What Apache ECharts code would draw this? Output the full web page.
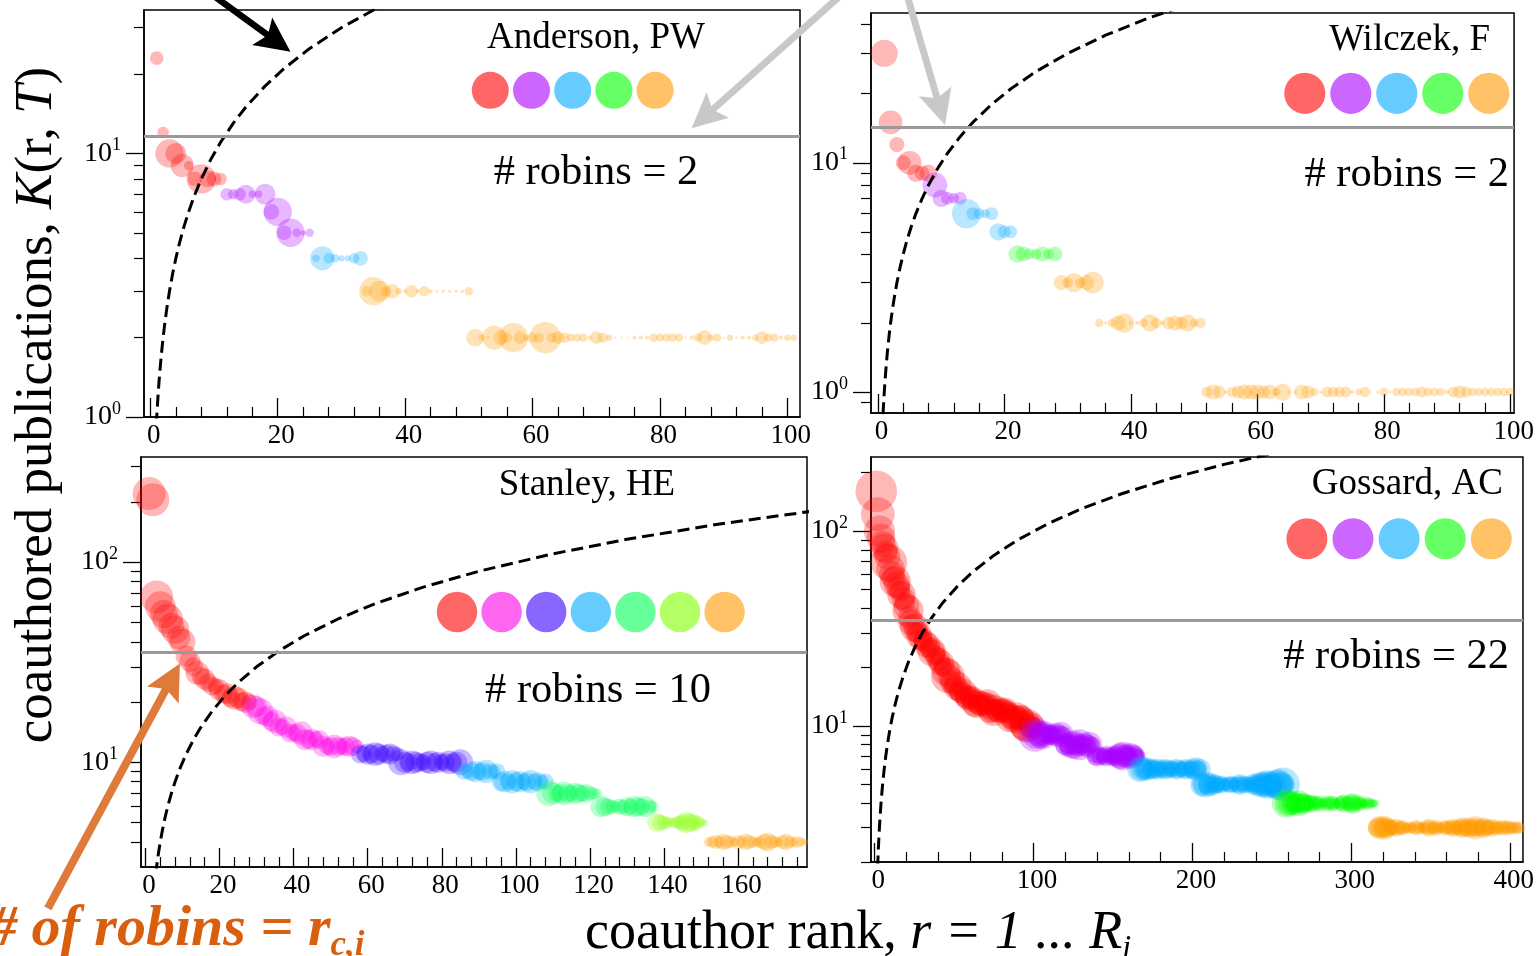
<!DOCTYPE html>
<html>
<head>
<meta charset="utf-8">
<title>Coauthor rank profiles</title>
<script src="https://cdn.jsdelivr.net/npm/echarts@6/dist/echarts.min.js"></script>
<style>
  html, body { margin: 0; padding: 0; background: #ffffff; }
  #chart { width: 1537px; height: 956px; }
</style>
</head>
<body>
<div id="chart"></div>
<script>
// ---------------------------------------------------------------------------
// Data: coauthored publications K(r) for each coauthor rank r = 1..R,
// with a bubble weight per coauthor and the rank where each colour group starts.
// ---------------------------------------------------------------------------
const authors = ['Anderson, PW', 'Wilczek, F', 'Stanley, HE', 'Gossard, AC'];
const robinCounts = [2, 2, 10, 22];
const robinThresholds = [11.6, 14.3, 35.6, 34.7];

const andersonK = [
  23,12,10,10,9,9,8,8,8,8,
  8,7,7,7,7,7,7,7,6,6,
  5,5,5,5,5,4,4,4,4,4,
  4,4,4,3,3,3,3,3,3,3,
  3,3,3,3,3,3,3,3,3,3,
  2,2,2,2,2,2,2,2,2,2,
  2,2,2,2,2,2,2,2,2,2,
  2,2,2,2,2,2,2,2,2,2,
  2,2,2,2,2,2,2,2,2,2,
  2,2,2,2,2,2,2,2,2,2,
  2
];
const andersonW = [
  13,11,27,20,22,9,14,28,16,14,
  12,12,10,12,18,7,7,20,15,27,
  14,27,8,5,8,7,23,10,8,6,
  6,10,14,10,27,20,10,14,6,4,
  12,4,10,4,3,3,3,3,3,8,
  17,6,3,23,14,10,28,12,6,10,
  10,30,10,12,10,8,8,8,4,12,
  10,6,2,2,2,4,4,4,8,8,
  8,8,8,2,4,8,14,6,8,2,
  6,2,4,4,6,12,8,8,4,6,
  6
];
const andersonGroupStart = [1, 12, 26, 34, 34];

const wilczekK = [
  30,15,12,10,10,9,9,9,8,7,
  7,7,7,6,6,6,6,6,5,5,
  5,4,4,4,4,4,4,4,3,3,
  3,3,3,3,2,2,2,2,2,2,
  2,2,2,2,2,2,2,2,2,2,
  2,1,1,1,1,1,1,1,1,1,
  1,1,1,1,1,1,1,1,1,1,
  1,1,1,1,1,1,1,1,1,1,
  1,1,1,1,1,1,1,1,1,1,
  1,1,1,1,1,1,1,1,1,1
];
const wilczekW = [
  25,22,14,14,22,16,14,16,23,16,
  12,10,12,27,12,10,8,12,16,12,
  12,16,14,10,10,14,10,14,14,10,
  18,10,14,20,8,3,8,14,18,4,
  4,8,16,10,4,12,14,12,16,8,
  10,10,14,12,3,10,12,14,14,14,
  12,14,8,16,3,3,14,12,8,3,
  10,10,10,10,4,6,10,2,3,8,
  3,8,8,8,8,10,8,8,8,4,
  10,12,10,8,8,8,8,8,8,8
];
const wilczekGroupStart = [1, 9, 14, 22, 29];

const stanleyK = [
  220,205,67,60,55,52,48,46,42,40,
  34,32,30,28,27,26,25,24,24,23,
  22,22,21,21,21,20,20,20,19,19,
  18,17,17,16,16,15,15,15,14,14,
  14,14,13,13,13,13,13,12,12,12,
  12,12,12,12,12,12,12,11,11,11,
  11,11,11,11,11,11,11,11,10,10,
  10,10,10,10,10,10,10,10,10,10,
  10,10,10,10,10,9,9,9,9,9,
  9,9,9,9,9,8,8,8,8,8,
  8,8,8,8,8,8,8,8,7,7,
  7,7,7,7,7,7,7,7,7,7,
  7,7,6,6,6,6,6,6,6,6,
  6,6,6,6,6,6,6,5,5,5,
  5,5,5,5,5,5,5,5,5,5,
  5,4,4,4,4,4,4,4,4,4,
  4,4,4,4,4,4,4,4,4,4,
  4,4,4,4,4,4,4,4
];
const stanleyW = [
  28,28,28,26,24,26,22,24,20,22,
  18,18,16,20,16,18,16,16,14,18,
  16,18,16,20,18,16,18,14,20,18,
  22,16,18,16,20,16,14,18,16,14,
  16,20,18,16,18,14,16,18,14,16,
  20,16,14,16,18,16,12,16,14,18,
  16,20,18,14,16,18,14,12,22,18,
  16,20,18,16,14,18,20,16,18,14,
  16,20,16,18,22,14,12,16,18,14,
  16,20,14,12,14,16,18,14,20,16,
  18,14,16,20,14,16,12,14,22,18,
  14,16,20,16,14,18,16,14,16,12,
  10,8,18,16,14,12,10,14,12,16,
  14,18,16,14,18,12,10,16,14,12,
  10,8,10,12,14,18,16,14,12,8,
  6,8,10,12,10,14,12,10,8,12,
  10,14,12,10,8,10,14,16,12,10,
  8,12,14,10,8,10,8,6
];
const stanleyGroupStart = [1, 29, 58, 86, 109, 138, 152];

const gossardK = [
  160,122,100,92,86,82,78,74,69,64,
  60,57,55,53,51,49,47,45,43,41,
  39,36,34,33,32,31,30,29,28,28,
  27,27,26,25,25,24,24,23,23,22,
  21,21,20,20,19,18,18,17,17,16,
  16,16,15,15,15,15,14,14,14,14,
  14,13,13,13,13,13,13,13,13,13,
  13,13,12,12,12,12,12,12,12,12,
  12,12,12,12,11,11,11,11,11,11,
  11,11,11,10,10,10,10,10,10,10,
  9,9,9,9,9,9,9,9,9,9,
  9,9,9,9,9,9,9,9,9,8,
  8,8,8,8,8,8,8,8,8,8,
  8,8,8,8,8,8,8,7,7,7,
  7,7,7,7,7,7,7,7,7,7,
  7,7,7,7,7,7,7,7,7,7,
  7,7,7,7,7,7,6,6,6,6,
  6,6,6,6,6,6,6,6,6,6,
  6,6,6,6,6,6,6,6,6,6,
  6,6,6,6,6,6,6,6,6,6,
  6,6,6,6,6,5,5,5,5,5,
  5,5,5,5,5,5,5,5,5,5,
  5,5,5,5,5,5,5,5,5,5,
  5,5,5,5,5,5,5,5,5,5,
  5,5,5,5,5,5,5,5,5,5,
  5,5,5,5,5,5,5,5,4,4,
  4,4,4,4,4,4,4,4,4,4,
  4,4,4,4,4,4,4,4,4,4,
  4,4,4,4,4,4,4,4,4,4,
  4,4,4,4,4,4,4,4,4,4,
  4,4,4,4,4,4,4,4,4,4,
  4,4,4,4,4,3,3,3,3,3,
  3,3,3,3,3,3,3,3,3,3,
  3,3,3,3,3,3,3,3,3,3,
  3,3,3,3,3,3,3,3,3,3,
  3,3,3,3,3,3,3,3,3,3,
  3,3,3,3,3,3,3,3,3,3,
  3,3,3,3,3,3,3,3,3,3,
  3,3,3,3,3,3,3,3,3,3,
  3,3,3,3,3,3,3,3,3,3,
  3,3,3,3,3,3
];
const gossardW = [
  32,26,24,22,20,22,18,20,28,22,
  20,18,24,20,18,16,22,18,16,20,
  24,18,20,16,22,18,16,20,18,14,
  16,18,20,14,16,22,18,16,14,18,
  16,20,14,16,22,26,18,16,20,14,
  18,22,16,18,14,20,16,18,20,16,
  18,14,20,22,16,18,20,14,16,18,
  22,16,20,18,24,16,18,14,20,16,
  18,20,16,14,22,18,16,20,24,18,
  16,20,18,22,24,26,18,16,20,14,
  26,22,18,20,16,22,18,14,12,16,
  14,16,12,18,14,16,20,14,12,16,
  18,14,16,20,22,16,14,18,24,16,
  14,18,12,16,20,14,12,10,14,16,
  12,14,10,12,14,16,12,10,14,12,
  16,14,12,18,20,22,16,18,14,16,
  20,18,14,16,12,10,20,18,16,14,
  18,16,12,14,16,12,14,16,12,10,
  14,12,16,14,10,12,14,12,10,16,
  14,12,10,12,14,16,12,10,14,12,
  16,18,14,12,16,18,16,20,14,16,
  18,14,12,16,14,12,10,14,12,10,
  8,10,12,14,12,10,8,12,14,16,
  12,10,14,12,10,8,12,16,14,12,
  18,16,14,20,18,16,22,20,18,16,
  14,18,22,24,20,18,26,16,22,20,
  18,16,14,18,16,14,20,16,14,16,
  12,14,10,12,14,10,12,8,10,12,
  8,6,8,10,12,8,10,12,10,8,
  6,8,10,12,14,10,8,12,10,14,
  16,12,10,8,12,10,8,6,8,10,
  8,6,8,6,6,14,16,18,16,14,
  18,16,14,12,10,12,10,14,12,8,
  10,12,10,8,6,8,10,8,6,10,
  12,10,8,6,8,10,8,12,14,10,
  8,10,12,10,8,6,8,10,12,10,
  8,12,10,14,12,10,8,12,14,16,
  12,10,14,16,12,10,14,18,14,12,
  10,12,16,14,12,10,12,14,10,8,
  12,10,8,10,12,10,8,12,10,8,
  10,8,10,8,10,8
];
const gossardGroupStart = [1, 101, 167, 259, 316];

// Ranks at which the K = r guide line is sampled
const identityRanks = [0.8,0.9,1,1.1,1.2,1.35,1.5,1.75,2,2.3,2.6,3,3.5,4,4.6,5.3,6,7,8,9.5,
  11,13,15,18,21,25,30,36,43,52,62,75,90,110,130,155,185,220,260,310,370,420];

// Tick values
const xTicks100 = [0,20,40,60,80,100];
const xMinor100 = [4,8,12,16,24,28,32,36,44,48,52,56,64,68,72,76,84,88,92,96];
const xTicks180 = [0,20,40,60,80,100,120,140,160];
const xMinor180 = [4,8,12,16,24,28,32,36,44,48,52,56,64,68,72,76,84,88,92,96,
  104,108,112,116,124,128,132,136,144,148,152,156,164,168,172,176];
const xTicks400 = [0,100,200,300,400];
const xMinor400 = [20,40,60,80,120,140,160,180,220,240,260,280,320,340,360,380];
const yTicksLow = [1,10];
const yTicksHigh = [10,100];
const yMinorAnderson = [2,3,4,5,6,7,8,9,20,30];
const yMinorWilczek = [0.9,2,3,4,5,6,7,8,9,20,30,40];
const yMinorStanley = [4,5,6,7,8,9,20,30,40,50,60,70,80,90,200,300];
const yMinorGossard = [2,3,4,5,6,7,8,9,20,30,40,50,60,70,80,90,200];

// ---------------------------------------------------------------------------
// Styling and layout
// ---------------------------------------------------------------------------
const FONT = "'Liberation Serif', 'Times New Roman', Times, serif";
const COLORS5 = ['255,0,0', '170,0,255', '0,170,255', '0,255,0', '255,153,0'];
const COLORS7 = ['255,0,0', '255,0,230', '57,0,255', '0,170,255', '0,255,85', '128,255,0', '255,153,0'];
const POINT_ALPHA = 0.35;
const KEY_ALPHA = 0.6;

const panels = [
  { K: andersonK, W: andersonW, start: andersonGroupStart, colors: COLORS5, bubble: 1.05,
    grid: { left: 144, top: 10, width: 656, height: 407 },
    xRange: [-1, 102], yRange: [1, 35],
    xMajor: xTicks100, xMinor: xMinor100, yMajor: yTicksLow, yMinor: yMinorAnderson,
    title: { x: 596, y: 38, align: 'center' }, robins: { x: 596, y: 173, align: 'center' },
    key: { x: 490.3, y: 90.3, r: 18.5, step: 41.2 } },
  { K: wilczekK, W: wilczekW, start: wilczekGroupStart, colors: COLORS5, bubble: 1.08,
    grid: { left: 871, top: 13, width: 650, height: 400 },
    xRange: [-1.1, 100.6], yRange: [0.81, 45],
    xMajor: xTicks100, xMinor: xMinor100, yMajor: yTicksLow, yMinor: yMinorWilczek,
    title: { x: 1490, y: 40, align: 'right' }, robins: { x: 1509, y: 175, align: 'right' },
    key: { x: 1304.8, y: 93.3, r: 20.6, step: 46 } },
  { K: stanleyK, W: stanleyW, start: stanleyGroupStart, colors: COLORS7, bubble: 1.18,
    grid: { left: 141, top: 457, width: 666, height: 410 },
    xRange: [-1.2, 178.6], yRange: [3, 335],
    xMajor: xTicks180, xMinor: xMinor180, yMajor: yTicksHigh, yMinor: yMinorStanley,
    title: { x: 587, y: 485, align: 'center' }, robins: { x: 598, y: 691, align: 'center' },
    key: { x: 457, y: 612, r: 20.2, step: 44.6 } },
  { K: gossardK, W: gossardW, start: gossardGroupStart, colors: COLORS5, bubble: 1.3,
    grid: { left: 871, top: 457, width: 654, height: 405 },
    xRange: [-2.3, 408], yRange: [2, 240],
    xMajor: xTicks400, xMinor: xMinor400, yMajor: yTicksHigh, yMinor: yMinorGossard,
    title: { x: 1503, y: 484, align: 'right' }, robins: { x: 1509, y: 657, align: 'right' },
    key: { x: 1306.9, y: 538.8, r: 20.5, step: 46.1 } }
];

// Annotation arrows: tip in data space of a panel, tail as a pixel offset from the tip
const ARROWS = [
  { panel: 0, tip: [22, 24.3], tail: [-85, -62], color: '#000000', width: 6.5, head: [35, 17] },
  { panel: 0, tip: [85, 12.45], tail: [149, -133], color: '#c8c8c8', width: 7, head: [35, 17] },
  { panel: 1, tip: [10.6, 14.6], tail: [-38, -130], color: '#c8c8c8', width: 7, head: [35, 17] },
  { panel: 2, tip: [9.3, 31.2], tail: [-132, 245], color: '#de7b3a', width: 8, head: [36, 18] }
];

const yLabelRich = {
  b: { fontFamily: FONT, fontSize: 28, color: '#000', lineHeight: 34 },
  s: { fontFamily: FONT, fontSize: 18, color: '#000', verticalAlign: 'top', lineHeight: 18 }
};

function powerLabel(v) {
  const e = Math.round(Math.log10(v));
  return '{b|10}{s|' + e + '}';
}

// ---------------------------------------------------------------------------
// Build the option
// ---------------------------------------------------------------------------
const option = {
  animation: false,
  backgroundColor: '#ffffff',
  grid: [], xAxis: [], yAxis: [], series: []
};
const firstSeries = [];

panels.forEach((p, i) => {
  option.grid.push(Object.assign({
    show: true, borderColor: '#000', borderWidth: 1.5, backgroundColor: 'transparent'
  }, p.grid));

  const xBase = { type: 'value', gridIndex: i, min: p.xRange[0], max: p.xRange[1],
    position: 'bottom', splitLine: { show: false } };
  option.xAxis.push(Object.assign({}, xBase, {
    axisLine: { show: true, onZero: false, lineStyle: { color: '#000', width: 1.5 } },
    axisTick: { show: true, inside: true, length: 19, customValues: p.xMajor,
      lineStyle: { color: '#000', width: 1.3 } },
    axisLabel: { show: true, customValues: p.xMajor, margin: 5, fontFamily: FONT,
      fontSize: 27, color: '#000', padding: [0, 0, 0, 7] }
  }));
  option.xAxis.push(Object.assign({}, xBase, {
    axisLine: { show: false, onZero: false },
    axisTick: { show: true, inside: true, length: 10, customValues: p.xMinor,
      lineStyle: { color: '#000', width: 1.2 } },
    axisLabel: { show: false }
  }));

  const yBase = { type: 'log', logBase: 10, gridIndex: i, min: p.yRange[0], max: p.yRange[1],
    position: 'left', splitLine: { show: false } };
  option.yAxis.push(Object.assign({}, yBase, {
    axisLine: { show: true, onZero: false, lineStyle: { color: '#000', width: 1.5 } },
    axisTick: { show: true, inside: false, length: 18, customValues: p.yMajor,
      lineStyle: { color: '#000', width: 1.3 } },
    axisLabel: { show: true, customValues: p.yMajor, margin: 23, formatter: powerLabel,
      rich: yLabelRich }
  }));
  option.yAxis.push(Object.assign({}, yBase, {
    axisLine: { show: false, onZero: false },
    axisTick: { show: true, inside: false, length: 10, customValues: p.yMinor,
      lineStyle: { color: '#000', width: 1.2 } },
    axisLabel: { show: false }
  }));

  // coauthor bubbles, one series per colour group
  p.colors.forEach((c, g) => {
    const from = p.start[g];
    const to = g + 1 < p.start.length ? p.start[g + 1] - 1 : p.K.length;
    const data = [];
    for (let r = from; r <= to; r++) data.push([r, p.K[r - 1], p.W[r - 1]]);
    if (g === 0) firstSeries[i] = option.series.length;
    option.series.push({
      type: 'scatter', xAxisIndex: 2 * i, yAxisIndex: 2 * i, data: data,
      symbol: 'circle', symbolSize: v => v[2] * p.bubble,
      itemStyle: { color: 'rgba(' + c + ',' + POINT_ALPHA + ')', borderWidth: 0 },
      silent: true, z: 2, emphasis: { disabled: true }
    });
  });

  // K = r guide and the robin threshold
  option.series.push({
    type: 'line', xAxisIndex: 2 * i, yAxisIndex: 2 * i,
    data: identityRanks.map(r => [r, r]),
    showSymbol: false, symbol: 'none', clip: true, silent: true, z: 4,
    lineStyle: { color: '#000', width: 3, type: [12, 6] },
    markLine: {
      silent: true, symbol: ['none', 'none'], label: { show: false },
      lineStyle: { color: '#9a9a9a', width: 3, type: 'solid' },
      emphasis: { disabled: true },
      data: [{ yAxis: robinThresholds[i] }]
    }
  });
});

const chart = echarts.init(document.getElementById('chart'), null, { renderer: 'canvas' });
chart.setOption(option);

// ---------------------------------------------------------------------------
// Texts, colour keys and arrows
// ---------------------------------------------------------------------------
function arrowShapes(tip, a) {
  const tx = tip[0], ty = tip[1];
  const sx = tx + a.tail[0], sy = ty + a.tail[1];
  const len = Math.hypot(tx - sx, ty - sy);
  const ux = (tx - sx) / len, uy = (ty - sy) / len;
  const nx = -uy, ny = ux;
  const bx = tx - ux * a.head[0], by = ty - uy * a.head[0];
  const notch = 7;
  const ix = bx + ux * notch, iy = by + uy * notch;
  return [
    { type: 'line', silent: true, z: 100,
      shape: { x1: sx, y1: sy, x2: ix + ux * 2, y2: iy + uy * 2 },
      style: { stroke: a.color, lineWidth: a.width } },
    { type: 'polygon', silent: true, z: 101,
      shape: { points: [[tx, ty], [bx + nx * a.head[1], by + ny * a.head[1]], [ix, iy],
        [bx - nx * a.head[1], by - ny * a.head[1]]] },
      style: { fill: a.color } }
  ];
}

const graphics = [];
panels.forEach((p, i) => {
  graphics.push({ type: 'text', silent: true, z: 50,
    style: { text: authors[i], x: p.title.x, y: p.title.y, align: p.title.align,
      verticalAlign: 'middle', fontFamily: FONT, fontSize: 37, fill: '#000' } });
  graphics.push({ type: 'text', silent: true, z: 50,
    style: { text: '# robins = ' + robinCounts[i], x: p.robins.x, y: p.robins.y,
      align: p.robins.align, verticalAlign: 'middle', fontFamily: FONT, fontSize: 42.5, fill: '#000' } });
  p.colors.forEach((c, g) => {
    graphics.push({ type: 'circle', silent: true, z: 50,
      shape: { cx: p.key.x + g * p.key.step, cy: p.key.y, r: p.key.r },
      style: { fill: 'rgba(' + c + ',' + KEY_ALPHA + ')' } });
  });
});

ARROWS.forEach(a => {
  const tip = chart.convertToPixel({ seriesIndex: firstSeries[a.panel] }, a.tip);
  arrowShapes(tip, a).forEach(s => graphics.push(s));
});

// axis titles
graphics.push({ type: 'text', silent: true, z: 60, x: 37, y: 405, rotation: Math.PI / 2,
  style: { text: 'coauthored publications, {i|K}(r, {i|T})', x: 0, y: 0,
    align: 'center', verticalAlign: 'middle', fontFamily: FONT, fontSize: 53, fill: '#000',
    rich: { i: { fontFamily: FONT, fontSize: 53, fontStyle: 'italic', fill: '#000' } } } });

graphics.push({ type: 'text', silent: true, z: 60,
  style: { text: 'coauthor rank, {i|r = 1 ... R}{sub|i}', x: 585, y: 934,
    align: 'left', verticalAlign: 'middle', fontFamily: FONT, fontSize: 54, fill: '#000',
    rich: {
      i: { fontFamily: FONT, fontSize: 54, fontStyle: 'italic', fill: '#000', lineHeight: 54 },
      sub: { fontFamily: FONT, fontSize: 32, fontStyle: 'italic', fill: '#000',
        verticalAlign: 'top', lineHeight: 32, padding: [26, 0, 0, 0] }
    } } });

graphics.push({ type: 'text', silent: true, z: 60,
  style: { text: '{m|# of robins = r}{sub|c,i}', x: -12, y: 930,
    align: 'left', verticalAlign: 'middle', fill: '#d95f0e',
    rich: {
      m: { fontFamily: FONT, fontSize: 58, fontStyle: 'italic', fontWeight: 'bold',
        fill: '#d95f0e', lineHeight: 58 },
      sub: { fontFamily: FONT, fontSize: 35, fontStyle: 'italic', fontWeight: 'bold',
        fill: '#d95f0e', verticalAlign: 'top', lineHeight: 35, padding: [27, 0, 0, 0] }
    } } });

chart.setOption({ graphic: graphics });
</script>
</body>
</html>
